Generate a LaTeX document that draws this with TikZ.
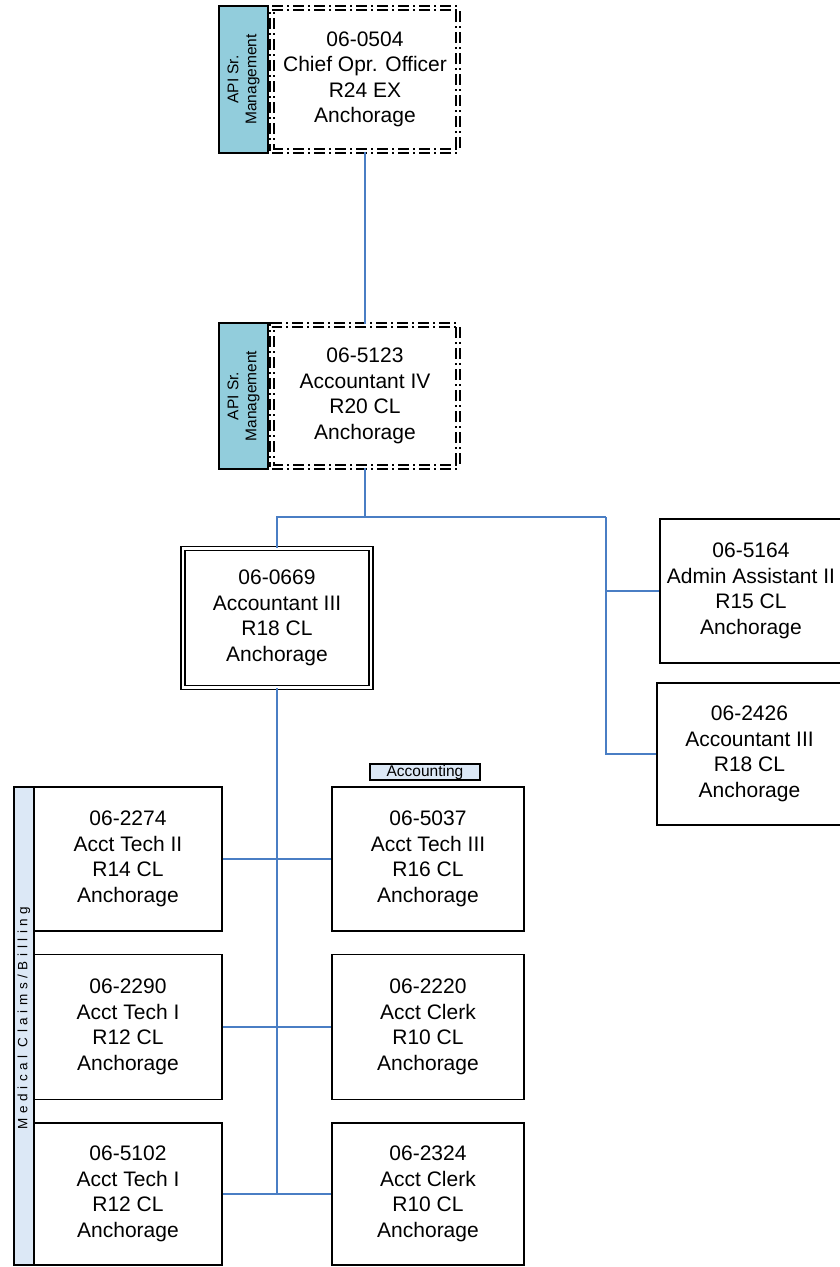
\documentclass[tikz,border=0pt]{standalone}
\usepackage{fontspec}
\setmainfont{Liberation Sans}
\definecolor{connblue}{HTML}{4A7EC4}
\definecolor{tealfill}{HTML}{92CDDC}
\definecolor{lightfill}{HTML}{DCE8F6}
\tikzset{
  posbox/.style={draw=black, line width=1.5pt, fill=white, align=center, inner sep=0pt,
    font=\fontsize{21}{25.5}\selectfont},
  mgrbox/.style={posbox, draw=black, line width=1.5pt, double=white, double distance=2.4pt,
    dash pattern=on 11pt off 4pt on 2pt off 4pt},
  dblbox/.style={posbox, line width=1.4pt, double=white, double distance=2.8pt},
  sidelbl/.style={draw=black, line width=1.5pt, fill=tealfill, rotate=90, align=center, inner sep=0pt,
    font=\fontsize{15.5}{18}\selectfont},
  grouplbl/.style={draw=black, line width=1.2pt, fill=lightfill, align=center, inner sep=0pt},
  conn/.style={draw=connblue, line width=1.5pt}
}
\begin{document}
\begin{tikzpicture}[x=1pt,y=-1pt]
\useasboundingbox (0,0) rectangle (840,1267);

% top manager
\node[sidelbl, minimum width=147pt, minimum height=49pt] (l1) at (243.5,79.5) {API Sr.\\Management};
\node[mgrbox, minimum width=186pt, minimum height=143pt] (b0504) at (365,79.5)
  {06-0504\\Chief Opr. Officer\\R24 EX\\Anchorage};

\node[sidelbl, minimum width=146pt, minimum height=49pt] (l2) at (243.5,396) {API Sr.\\Management};
\node[mgrbox, minimum width=186pt, minimum height=142pt] (b5123) at (365,396)
  {06-5123\\Accountant IV\\R20 CL\\Anchorage};

\node[dblbox, minimum width=188pt, minimum height=139pt] (b0669) at (277,618)
  {06-0669\\Accountant III\\R18 CL\\Anchorage};

\node[posbox, minimum width=182pt, minimum height=144pt] (b5164) at (751,591)
  {06-5164\\Admin Assistant II\\R15 CL\\Anchorage};
\node[posbox, minimum width=185pt, minimum height=142pt] (b2426) at (749.5,754)
  {06-2426\\Accountant III\\R18 CL\\Anchorage};

% left column
\node[posbox, minimum width=188pt, minimum height=144pt] (b2274) at (128,859)
  {06-2274\\Acct Tech II\\R14 CL\\Anchorage};
\node[posbox, minimum width=188pt, minimum height=145pt] (b2290) at (128,1027)
  {06-2290\\Acct Tech I\\R12 CL\\Anchorage};
\node[posbox, minimum width=188pt, minimum height=142pt] (b5102) at (128,1194)
  {06-5102\\Acct Tech I\\R12 CL\\Anchorage};

% right column
\node[posbox, minimum width=192pt, minimum height=144pt] (b5037) at (428,859)
  {06-5037\\Acct Tech III\\R16 CL\\Anchorage};
\node[posbox, minimum width=192pt, minimum height=145pt] (b2220) at (428,1027)
  {06-2220\\Acct Clerk\\R10 CL\\Anchorage};
\node[posbox, minimum width=192pt, minimum height=142pt] (b2324) at (428,1194)
  {06-2324\\Acct Clerk\\R10 CL\\Anchorage};

% group labels
\node[grouplbl, minimum width=110pt, minimum height=16pt, font=\fontsize{15.5}{16}\selectfont] (acct) at (425,772) {Accounting};
\node[grouplbl, rotate=90, line width=1.5pt, minimum width=478pt, minimum height=20pt,
  font=\fontsize{13.5}{14}\selectfont\addfontfeature{LetterSpace=34}] (strip) at (24,1026) {\hspace*{16pt}Medical Claims/Billing};

% connectors
\coordinate (r) at (606,517);
\draw[conn] (b0504.south) -- (b5123.north);
\draw[conn] (b0669.north) |- (r);
\draw[conn] (b5123.south) -- (b5123.south |- r);
\draw[conn] (r) |- (b2426.west);
\draw[conn] (r) |- (b5164.west);
\draw[conn] (b0669.south) -- (b0669.south |- b2324.west);
\draw[conn] (b2274.east) -- (b5037.west);
\draw[conn] (b2290.east) -- (b2220.west);
\draw[conn] (b5102.east) -- (b2324.west);
\end{tikzpicture}
\end{document}
